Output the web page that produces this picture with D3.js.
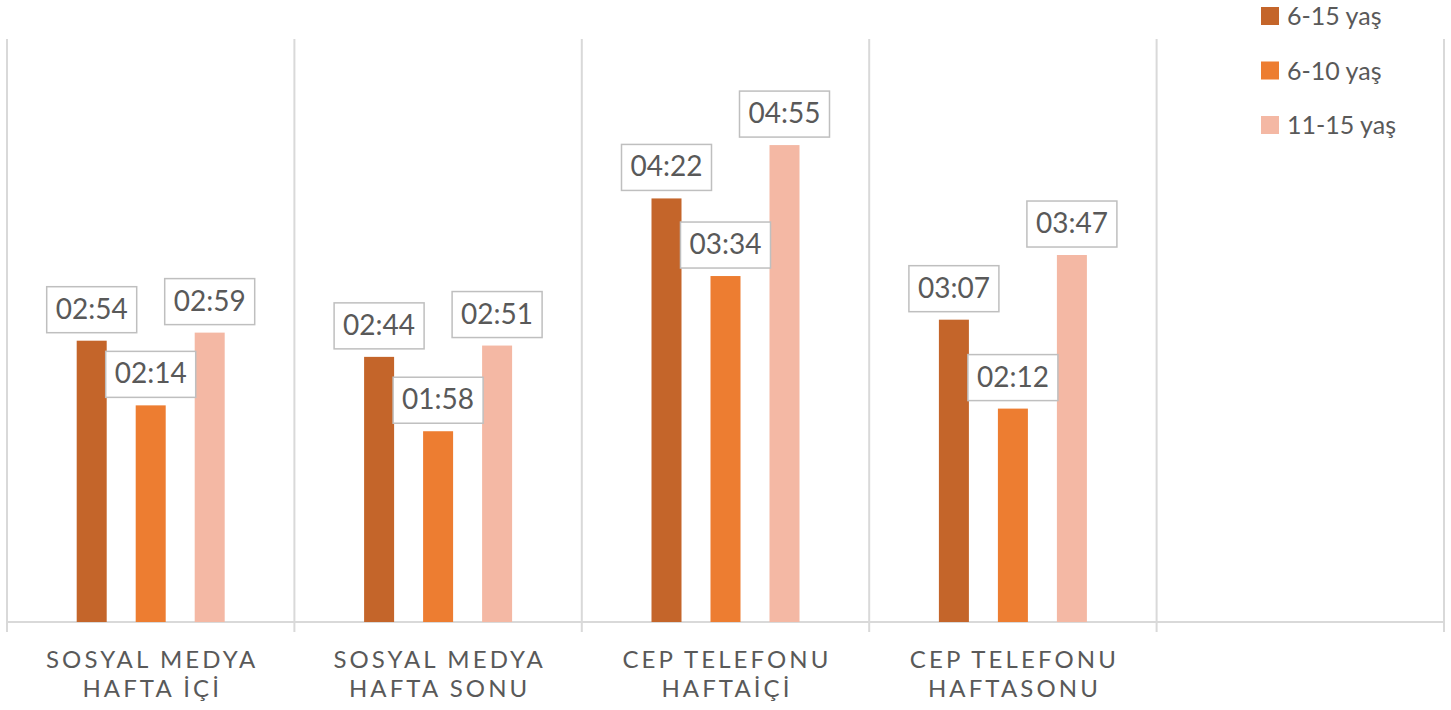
<!DOCTYPE html>
<html>
<head>
<meta charset="utf-8">
<script src="https://cdn.jsdelivr.net/npm/d3@7"></script>
<style>
  html, body { margin: 0; padding: 0; background: #fff; }
  svg { display: block; }
  text { font-family: Lato, "Liberation Sans", sans-serif; fill: #595959; }
</style>
</head>
<body>
<svg id="chart" width="1451" height="710"></svg>
<script>
// Data (minutes; labels shown as hh:mm)
const categories = [
  ["SOSYAL MEDYA", "HAFTA İÇİ"],
  ["SOSYAL MEDYA", "HAFTA SONU"],
  ["CEP TELEFONU", "HAFTAİÇİ"],
  ["CEP TELEFONU", "HAFTASONU"],
  ["", ""]
];
const seriesNames = ["6-15 yaş", "6-10 yaş", "11-15 yaş"];
const seriesColors = ["#C4652A", "#ED7D31", "#F4B8A4"];
const s615 = [174, 164, 262, 187, null];   // 02:54, 02:44, 04:22, 03:07
const s610 = [134, 118, 214, 132, null];   // 02:14, 01:58, 03:34, 02:12
const s1115 = [179, 171, 295, 227, null];  // 02:59, 02:51, 04:55, 03:47
const seriesValues = [s615, s610, s1115];
const yMax = 360;

const fmt = m => String(Math.floor(m / 60)).padStart(2, "0") + ":" + String(m % 60).padStart(2, "0");

const svg = d3.select("#chart");
const mLeft = 7, mRight = 1444, mTop = 40, mBottom = 622;

const x0 = d3.scaleBand().domain(d3.range(categories.length)).range([mLeft, mRight]).padding(0);
const step = 59, bw = 30;
const pI = (step - bw) / step;
const pO = (x0.bandwidth() / step - (3 - pI)) / 2;
const x1 = d3.scaleBand().domain(d3.range(seriesNames.length)).range([0, x0.bandwidth()])
  .paddingInner(pI).paddingOuter(pO);
const y = d3.scaleLinear().domain([0, yMax]).range([mBottom, mTop]);

const grid = "#D9D9D9";
// vertical category separators
const bounds = d3.range(categories.length + 1).map(i => i < categories.length ? x0(i) : x0(categories.length - 1) + x0.bandwidth());
svg.append("g").selectAll("line").data(bounds).join("line")
  .attr("x1", d => d).attr("x2", d => d)
  .attr("y1", mTop - 1).attr("y2", mBottom + 10)
  .attr("stroke", grid).attr("stroke-width", 2);
// baseline
svg.append("line").attr("x1", mLeft - 1).attr("x2", mRight + 1)
  .attr("y1", mBottom).attr("y2", mBottom)
  .attr("stroke", grid).attr("stroke-width", 2);

// bars
const bars = [];
seriesValues.forEach((vals, si) => vals.forEach((v, ci) => {
  if (v != null) bars.push({ si, ci, v });
}));
const g = svg.append("g");
g.selectAll("rect").data(bars).join("rect")
  .attr("x", d => x0(d.ci) + x1(d.si))
  .attr("width", x1.bandwidth())
  .attr("y", d => y(d.v))
  .attr("height", d => y(0) - y(d.v))
  .attr("fill", d => seriesColors[d.si]);

// data labels
const boxW = 90, boxH = 46, gap = 8;
const lab = svg.append("g").selectAll("g").data(bars).join("g")
  .attr("transform", d => `translate(${x0(d.ci) + x1(d.si) + x1.bandwidth() / 2},${y(d.v) - gap})`);
lab.append("rect")
  .attr("x", -boxW / 2).attr("y", -boxH).attr("width", boxW).attr("height", boxH)
  .attr("fill", "#fff").attr("stroke", "#BFBFBF").attr("stroke-width", 1.5);
lab.append("text")
  .attr("text-anchor", "middle").attr("y", -14)
  .attr("font-size", 28)
  .text(d => fmt(d.v));

// category labels
const cat = svg.append("g").selectAll("text").data(categories).join("text")
  .attr("text-anchor", "middle")
  .attr("font-size", 24)
  .attr("letter-spacing", "3.1px");
cat.each(function (d, i) {
  const t = d3.select(this);
  d.forEach((line, li) => {
    t.append("tspan")
      .attr("x", x0(i) + x0.bandwidth() / 2 + 1.5)
      .attr("y", 668 + li * 29)
      .text(line);
  });
});

// legend
const leg = svg.append("g").selectAll("g").data(seriesNames).join("g")
  .attr("transform", (d, i) => `translate(1261,${7 + i * 54.5})`);
leg.append("rect").attr("width", 18).attr("height", 18).attr("fill", (d, i) => seriesColors[i]);
leg.append("text").attr("x", 26).attr("y", 18).attr("font-size", 25).text(d => d);
</script>
</body>
</html>
